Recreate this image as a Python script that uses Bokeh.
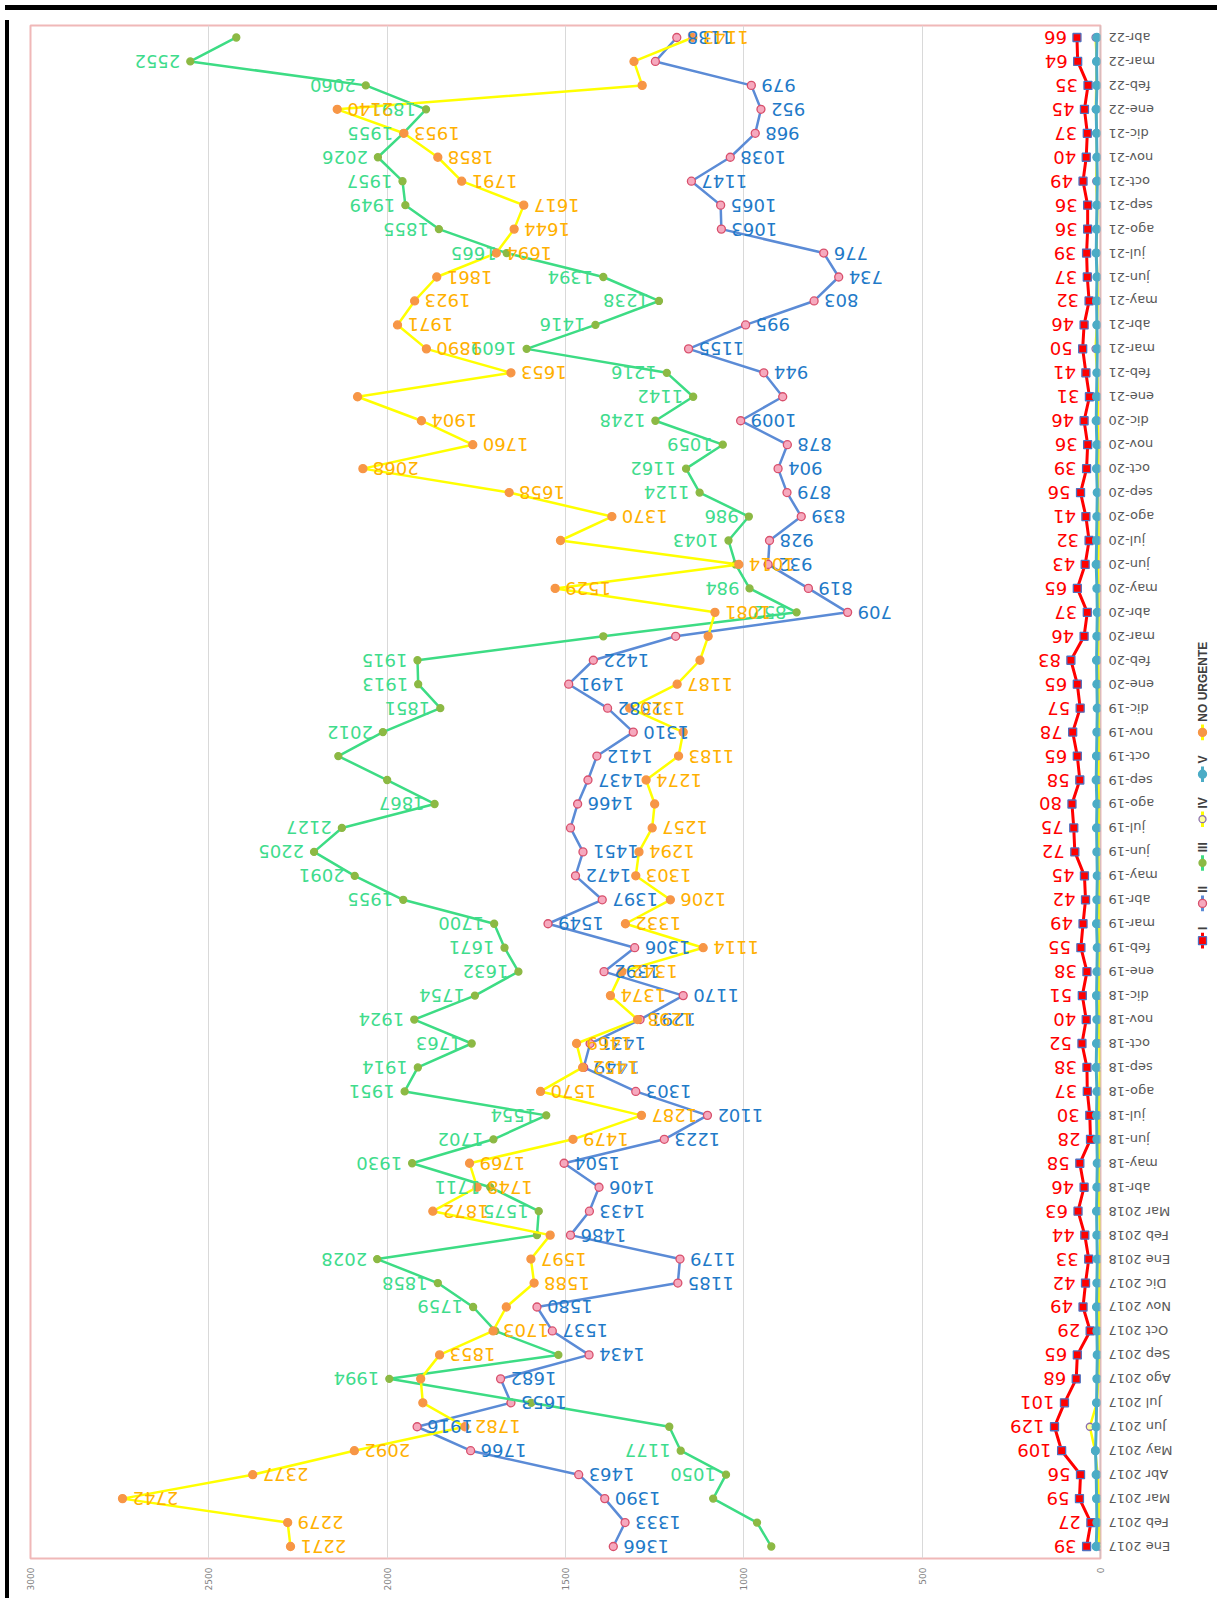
import math
from bokeh.plotting import figure
from bokeh.models import Range1d, FactorRange, ColumnDataSource, FixedTicker, Div, Span
from bokeh.layouts import column, row
from bokeh.core.properties import value
from bokeh.embed import file_html
from bokeh.resources import INLINE

# ---------------- data ----------------
CATS = ["Ene 2017", "Feb 2017", "Mar 2017", "Abr 2017", "May 2017", "Jun 2017",
        "Jul 2017", "Ago 2017", "Sep 2017", "Oct 2017", "Nov 2017", "Dic 2017",
        "Ene 2018", "Feb 2018", "Mar 2018", "abr-18", "may-18", "jun-18",
        "jul-18", "ago-18", "sep-18", "oct-18", "nov-18", "dic-18",
        "ene-19", "feb-19", "mar-19", "abr-19", "may-19", "jun-19",
        "jul-19", "ago-19", "sep-19", "oct-19", "nov-19", "dic-19",
        "ene-20", "feb-20", "mar-20", "abr-20", "may-20", "jun-20",
        "jul-20", "ago-20", "sep-20", "oct-20", "nov-20", "dic-20",
        "ene-21", "feb-21", "mar-21", "abr-21", "may-21", "jun-21",
        "jul-21", "ago-21", "sep-21", "oct-21", "nov-21", "dic-21",
        "ene-22", "feb-22", "mar-22", "abr-22"]

SERIES_I = [39, 27, 59, 56, 109, 129, 101, 68, 65, 29, 49, 42,
            33, 44, 63, 46, 58, 28, 30, 37, 38, 52, 40, 51,
            38, 55, 49, 42, 45, 72, 75, 80, 58, 65, 78, 57,
            65, 83, 46, 37, 65, 43, 32, 41, 56, 39, 36, 46,
            31, 41, 50, 46, 32, 37, 39, 36, 36, 49, 40, 37,
            45, 35, 64, 66]

SERIES_II = [1366, 1333, 1390, 1463, 1766, 1916, 1653, 1682, 1434, 1537, 1580, 1185,
             1179, 1486, 1433, 1406, 1504, 1223, 1102, 1303, 1449, 1431, 1291, 1170,
             1392, 1306, 1549, 1397, 1472, 1451, 1486, 1466, 1437, 1412, 1310, 1382,
             1491, 1422, 1191, 709, 819, 932, 928, 839, 879, 904, 878, 1009,
             891, 944, 1155, 995, 803, 734, 776, 1063, 1065, 1147, 1038, 968,
             952, 979, 1248, 1188]

SERIES_III = [923, 963, 1086, 1050, 1177, 1209, 1596, 1994, 1520, 1697, 1759, 1858,
              2028, 1580, 1575, 1711, 1930, 1702, 1554, 1951, 1914, 1763, 1924, 1754,
              1632, 1671, 1700, 1955, 2091, 2205, 2127, 1867, 2000, 2137, 2012, 1851,
              1913, 1915, 1394, 852, 984, 1023, 1043, 986, 1124, 1162, 1059, 1248,
              1142, 1216, 1609, 1416, 1238, 1394, 1665, 1855, 1949, 1957, 2026, 1955,
              1891, 2060, 2552, 2423]

SERIES_IV = [3, 4, 5, 8, 15, 30, 10, 6, 4, 3, 4, 3,
             2, 1, 3, 4, 5, 3, 4, 3, 2, 3, 4, 3,
             5, 4, 3, 4, 5, 6, 5, 4, 6, 5, 4, 6,
             5, 7, 6, 5, 6, 7, 5, 6, 8, 7, 6, 8,
             7, 9, 14, 10, 8, 9, 11, 10, 9, 12, 10, 11,
             13, 12, 10, 14]

SERIES_V = [12, 10, 11, 12, 14, 12, 11, 10, 9, 10, 11, 10,
            9, 10, 11, 10, 9, 10, 11, 10, 12, 11, 10, 11,
            10, 9, 11, 10, 9, 10, 11, 10, 12, 11, 10, 9,
            10, 11, 10, 9, 10, 12, 11, 10, 9, 11, 10, 12,
            11, 10, 9, 10, 11, 10, 12, 11, 10, 9, 10, 11,
            12, 10, 11, 10]

SERIES_NU = [2271, 2279, 2742, 2377, 2092, 1782, 1900, 1906, 1853, 1703, 1666, 1588,
             1597, 1543, 1872, 1748, 1769, 1479, 1287, 1570, 1452, 1469, 1298, 1374,
             1342, 1114, 1332, 1206, 1303, 1294, 1257, 1250, 1274, 1183, 1170, 1320,
             1187, 1123, 1100, 1081, 1529, 1014, 1514, 1370, 1658, 2068, 1760, 1904,
             2083, 1653, 1890, 1971, 1923, 1861, 1694, 1644, 1617, 1791, 1858, 1953,
             2140, 1285, 1308, 1143]

UNLABELED_I = []
UNLABELED_II = ["jul-19", "mar-20", "ene-21", "mar-22"]
UNLABELED_III = ["Ene 2017", "Feb 2017", "Mar 2017", "Jun 2017", "Jul 2017", "Sep 2017",
                 "Oct 2017", "Feb 2018", "sep-19", "oct-19", "mar-20", "jun-20", "abr-22"]
UNLABELED_NU = ["Jul 2017", "Ago 2017", "Nov 2017", "Feb 2018", "ago-19", "nov-19",
                "feb-20", "mar-20", "jul-20", "ene-21", "feb-22", "mar-22"]

X_TICKS = [0, 500, 1000, 1500, 2000, 2500, 3000]
NAMES = ["I", "II", "III", "IV", "V", "NO URGENTE"]

# ---------------- styles ----------------
STY = {
    "I": dict(line="#FF0000", lw=3, marker="square", size=8, fill="#FF0000", mline="#4F6FC0", label="#FF0000", side="left"),
    "II": dict(line="#5B8BD6", lw=2.5, marker="circle", size=8, fill="#F6A9BE", mline="#D8506C", label="#1F7AC8", side="right"),
    "III": dict(line="#3DDC84", lw=2.5, marker="circle", size=7, fill="#8CB944", mline="#8CB944", label="#3FDC8C", side="left"),
    "IV": dict(line="#FFFF00", lw=2.5, marker="circle", size=7, fill="#FFFFA0", mline="#8A6FB0", label=None, side=None),
    "V": dict(line="#4BACC6", lw=3, marker="circle", size=8, fill="#4BACC6", mline="#4BACC6", label=None, side=None),
    "NO URGENTE": dict(line="#FFFF00", lw=2.5, marker="circle", size=8, fill="#F79646", mline="#F79646", label="#FFB000", side="right"),
}
DATA = {"I": (SERIES_I, UNLABELED_I), "II": (SERIES_II, UNLABELED_II),
        "III": (SERIES_III, UNLABELED_III), "IV": (SERIES_IV, None),
        "V": (SERIES_V, None), "NO URGENTE": (SERIES_NU, UNLABELED_NU)}

FIG_H = 1578
B_TOP, B_BOT = 10, 26
MAIN_W = 1094
B_RIGHT = 8
CAT_W = 74
LEG_W = 40

y_rng = FactorRange(factors=CATS, range_padding=0)

p = figure(width=MAIN_W, height=FIG_H,
           x_range=Range1d(3000, 0), y_range=y_rng,
           y_axis_location=None, x_axis_location="below",
           output_backend="svg", toolbar_location=None,
           min_border_left=16, min_border_right=B_RIGHT, min_border_top=B_TOP, min_border_bottom=B_BOT)
p.background_fill_color = "white"
p.border_fill_color = "white"
p.outline_line_color = "#F0B8B8"
p.outline_line_width = 2

p.xaxis.ticker = FixedTicker(ticks=X_TICKS)
p.xaxis.major_label_orientation = math.pi / 2
p.xaxis.major_label_text_font = "DejaVu Sans"
p.xaxis.major_label_text_font_size = "9px"
p.xaxis.major_label_text_color = "#808080"
p.xaxis.axis_line_color = None
p.xaxis.major_tick_line_color = None
p.xaxis.minor_tick_line_color = None
p.xaxis.major_label_standoff = 3

p.xgrid.grid_line_color = "#D9D9D9"
p.ygrid.grid_line_color = None
p.add_layout(Span(location=0, dimension="height", line_color="#BFBFBF", line_width=1.5))

for name in NAMES:
    vals, _ = DATA[name]
    s = STY[name]
    p.line(x=vals, y=CATS, line_color=s["line"], line_width=s["lw"])
    p.scatter(x=vals, y=CATS, marker=s["marker"], size=s["size"],
              fill_color=s["fill"], line_color=s["mline"], line_width=1.3)

for name in NAMES:
    vals, unl = DATA[name]
    s = STY[name]
    if s["label"] is None:
        continue
    xs, ys, ts = [], [], []
    for c, v in zip(CATS, vals):
        if c in unl:
            continue
        xs.append(v); ys.append(c); ts.append(str(v))
    src = ColumnDataSource(dict(x=xs, y=ys, t=ts))
    if s["side"] == "left":
        align, off = "left", -10
    else:
        align, off = "right", 10
    p.text(x="x", y="y", text="t", source=src, angle=math.pi,
           text_align=align, text_baseline="middle", x_offset=off,
           text_font=value("DejaVu Sans"), text_font_size="18px",
           text_color=s["label"])

# ---------------- category labels (upside-down, right of the value axis) ----------------
cf = figure(width=CAT_W, height=FIG_H, x_range=Range1d(0, CAT_W), y_range=y_rng,
            output_backend="svg", toolbar_location=None,
            x_axis_location=None, y_axis_location=None,
            min_border_left=0, min_border_right=0, min_border_top=B_TOP, min_border_bottom=B_BOT)
cf.outline_line_color = None
cf.grid.visible = False
csrc = ColumnDataSource(dict(x=[cf.x_range.start] * len(CATS), y=CATS, t=CATS))
cf.text(x="x", y="y", text="t", source=csrc, angle=math.pi,
        text_align="right", text_baseline="middle", x_offset=0,
        text_font=value("DejaVu Sans"), text_font_size="13px", text_color="#595959")

# ---------------- legend (vertical, reading upwards) ----------------
leg = figure(width=LEG_W, height=FIG_H, x_range=Range1d(0, LEG_W), y_range=Range1d(0, FIG_H),
             output_backend="svg", toolbar_location=None,
             x_axis_location=None, y_axis_location=None, min_border=0)
leg.outline_line_color = None
leg.grid.visible = False

ADV = {"I": .278, "V": .667, "N": .722, "O": .778, "U": .722, "R": .722,
       "G": .778, "E": .667, "T": .611, " ": .278}
FS = 12
cursor = 950.0
cx = 20
for name in NAMES:
    s = STY[name]
    key_bot, key_top = cursor, cursor - 16
    mid = cursor - 8
    leg.segment(x0=[cx], y0=[FIG_H - key_bot], x1=[cx], y1=[FIG_H - key_top],
                line_color=s["line"], line_width=3)
    leg.scatter(x=[cx], y=[FIG_H - mid], marker=s["marker"], size=s["size"],
                fill_color=s["fill"], line_color=s["mline"], line_width=1.3)
    tstart = key_top - 3
    leg.text(x=[cx], y=[FIG_H - tstart], text=[name], angle=math.pi / 2,
             text_align="left", text_baseline="middle",
             text_font=value("Liberation Sans"), text_font_style="bold",
             text_font_size=f"{FS}px", text_color="#404040")
    tlen = sum(ADV.get(ch, .6) for ch in name) * FS
    cursor = tstart - tlen - 16

top_bar = Div(width=4 + MAIN_W + CAT_W + LEG_W, height=5, styles={"background-color": "black"})
left_bar = Div(width=4, height=FIG_H, styles={"background-color": "black"})

layout = column(top_bar, row(left_bar, p, cf, leg, spacing=0), spacing=0)
open("out.html", "w").write(file_html(layout, INLINE))
